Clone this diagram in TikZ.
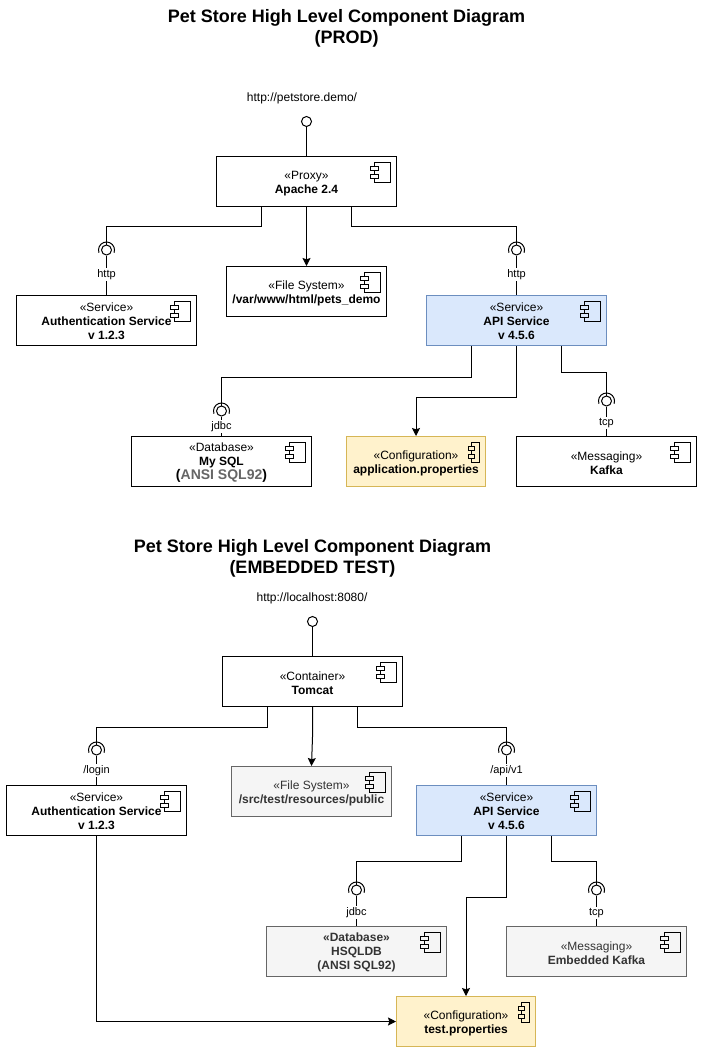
\documentclass[tikz,border=0pt]{standalone}
\usepackage{fontspec}
\setmainfont{Liberation Sans}
\usetikzlibrary{calc,arrows.meta}
\definecolor{grayfill}{HTML}{F5F5F5}
\definecolor{grayline}{HTML}{666666}
\definecolor{graytext}{HTML}{333333}
\definecolor{bluefill}{HTML}{DAE8FC}
\definecolor{blueline}{HTML}{6C8EBF}
\definecolor{yellowfill}{HTML}{FFF2CC}
\definecolor{yellowline}{HTML}{D6B656}
\newcommand{\toplift}{\rule{0pt}{9pt}}
\newcommand{\topliftc}{\rule{0pt}{7.5pt}}
\tikzset{
  comp/.style={draw=black,fill=white,line width=0.75pt,minimum width=135pt,minimum height=37.5pt,inner sep=0pt,align=center,font=\fontsize{9}{10.5}\selectfont},
  fsbox/.style={comp,minimum width=120pt},
  cfgbox/.style={comp,minimum width=104.25pt},
  graybox/.style={draw=grayline,fill=grayfill,text=graytext},
  bluebox/.style={draw=blueline,fill=bluefill},
  yellowbox/.style={draw=yellowline,fill=yellowfill},
  ifc/.style={circle,draw=black,fill=white,line width=0.75pt,minimum size=7.5pt,inner sep=0pt},
  lbl/.style={fill=white,inner sep=1pt,font=\fontsize{8.25}{9}\selectfont},
  urltext/.style={font=\fontsize{9}{10.5}\selectfont},
  titletext/.style={align=center,font=\fontsize{13.5}{15.75}\selectfont\bfseries},
  wire/.style={line width=0.75pt,draw=black},
  arr/.style={wire,-{Stealth[length=6pt,width=6pt,inset=1pt]}}
}
% #1 box, #2 fill, #3 body width, #4 tab half-width
\newcommand{\compicon}[4]{%
  \draw[line width=0.75pt,fill=#2] ($(#1.north east)+(-6.75,6.75)$) rectangle ($(#1.north east)+(-6.75-#3,26.75)$);
  \draw[line width=0.75pt,fill=#2] ($(#1.north east)+(-6.75-#3-#4,10.25)$) rectangle ($(#1.north east)+(-6.75-#3+#4,14.25)$);
  \draw[line width=0.75pt,fill=#2] ($(#1.north east)+(-6.75-#3-#4,18.75)$) rectangle ($(#1.north east)+(-6.75-#3+#4,22.75)$);
}
\newcommand{\ifcarc}[1]{\draw[line width=0.75pt] ([shift={(160:8)}]#1.center) arc (160:380:8);}
\begin{document}
\begin{tikzpicture}[x=0.75pt,y=-0.75pt]
\useasboundingbox (0,0) rectangle (701,1052);
% ---------- PROD ----------
\node[titletext] (title1) at (346.5,28) {Pet Store High Level Component Diagram\\(PROD)};
\node[urltext] (url1) at (302,98) {http://petstore.demo/};
\node[comp] (proxy) at (306.5,181.5) {\toplift «Proxy»\\\textbf{Apache 2.4}};
\node[comp] (auth) at (106.5,320.5) {\topliftc «Service»\\\textbf{Authentication Service}\\\textbf{v 1.2.3}};
\node[fsbox] (fs) at (306.5,291.5) {\toplift «File System»\\\textbf{/var/www/html/pets\_demo}};
\node[comp,bluebox] (api) at (516.5,320.5) {\topliftc «Service»\\\textbf{API Service}\\\textbf{v 4.5.6}};
\node[comp] (db) at (221.5,461.5) {\topliftc «Database»\\\textbf{My SQL}\\\textbf{\fontsize{10.5}{10.5}\selectfont(\textcolor{grayline}{ANSI SQL92})}};
\node[cfgbox,yellowbox] (conf) at (416,461.5) {\toplift «Configuration»\\\textbf{application.properties}};
\node[comp] (kafka) at (606.5,461.5) {\toplift «Messaging»\\\textbf{Kafka}};
\node[ifc] (i0) at (306.5,121.5) {};
\node[ifc] (i1) at (106.5,250) {};
\node[ifc] (i2) at (516.5,250) {};
\node[ifc] (i3) at (221.5,411) {};
\node[ifc] (i4) at (606.5,401) {};
\coordinate (p1) at ($(proxy.south)+(-45,0)$);
\coordinate (p2) at ($(proxy.south)+(45,0)$);
\coordinate (a1) at ($(api.south)+(-45,0)$);
\coordinate (a2) at ($(api.south)+(45,0)$);
\draw[wire] (i0) -- (proxy.north);
\draw[wire] (p1) -- ++(0,19) -| (i1.north);
\draw[wire] (p2) -- ++(0,19) -| (i2.north);
\draw[arr] (proxy.south) -- (fs.north);
\draw[wire] (i1) -- (auth.north) node[lbl,pos=0.49] (l1) {http};
\draw[wire] (i2) -- (api.north) node[lbl,pos=0.49] (l2) {http};
\draw[wire] (a1) -- ++(0,31) -| (i3.north);
\draw[wire] (a2) -- ++(0,26) -| (i4.north);
\draw[arr] (api.south) -- ++(0,51) -| (conf.north);
\draw[wire] (i3) -- (db.north) node[lbl,midway] (l3) {jdbc};
\draw[wire] (i4) -- (kafka.north) node[lbl,pos=0.56] (l4) {tcp};
\foreach \n in {i1,i2,i3,i4} {\ifcarc{\n}}
\compicon{proxy}{white}{16}{4}
\compicon{auth}{white}{16}{4}
\compicon{fs}{white}{16}{4}
\compicon{api}{bluefill}{16}{4}
\compicon{db}{white}{16}{4}
\compicon{conf}{yellowfill}{8}{3}
\compicon{kafka}{white}{16}{4}
% ---------- EMBEDDED TEST ----------
\node[titletext] (title2) at (312.5,558) {Pet Store High Level Component Diagram\\(EMBEDDED TEST)};
\node[urltext] (url2) at (312,598) {http://localhost:8080/};
\node[comp] (cont) at (312.5,681.5) {\toplift «Container»\\\textbf{Tomcat}};
\node[comp] (authb) at (96.5,810.5) {\topliftc «Service»\\\textbf{Authentication Service}\\\textbf{v 1.2.3}};
\node[fsbox,graybox] (fsb) at (311.5,791.5) {\toplift «File System»\\\textbf{/src/test/resources/public}};
\node[comp,bluebox] (apib) at (506.5,810.5) {\topliftc «Service»\\\textbf{API Service}\\\textbf{v 4.5.6}};
\node[comp,graybox] (dbb) at (356.5,951.5) {\topliftc\textbf{«Database»}\\\textbf{HSQLDB}\\\textbf{(ANSI SQL92)}};
\node[comp,graybox] (kafkab) at (596.5,951.5) {\toplift «Messaging»\\\textbf{Embedded Kafka}};
\node[cfgbox,yellowbox] (confb) at (466,1021.5) {\toplift «Configuration»\\\textbf{test.properties}};
\node[ifc] (j0) at (312.5,621.5) {};
\node[ifc] (j1) at (96.5,750) {};
\node[ifc] (j2) at (506.5,750) {};
\node[ifc] (j3) at (356.5,890) {};
\node[ifc] (j4) at (596.5,890) {};
\coordinate (q1) at ($(cont.south)+(-45,0)$);
\coordinate (q2) at ($(cont.south)+(45,0)$);
\coordinate (b1) at ($(apib.south)+(-45,0)$);
\coordinate (b2) at ($(apib.south)+(45,0)$);
\draw[wire] (j0) -- (cont.north);
\draw[wire] (q1) -- ++(0,20) -| (j1.north);
\draw[wire] (q2) -- ++(0,20) -| (j2.north);
\draw[arr] (cont.south) -- ++(0,30) -- (fsb.north);
\draw[wire] (j1) -- (authb.north) node[lbl,midway] (m1) {/login};
\draw[wire] (j2) -- (apib.north) node[lbl,midway] (m2) {/api/v1};
\draw[wire] (b1) -- ++(0,25.5) -| (j3.north);
\draw[wire] (b2) -- ++(0,25.5) -| (j4.north);
\draw[arr] (apib.south) -- ++(0,61) -| (confb.north);
\draw[arr] (authb.south) |- (confb.west);
\draw[wire] (j3) -- (dbb.north) node[lbl,pos=0.56] (m3) {jdbc};
\draw[wire] (j4) -- (kafkab.north) node[lbl,pos=0.56] (m4) {tcp};
\foreach \n in {j1,j2,j3,j4} {\ifcarc{\n}}
\compicon{cont}{white}{16}{4}
\compicon{authb}{white}{16}{4}
\compicon{fsb}{grayfill}{16}{4}
\compicon{apib}{bluefill}{16}{4}
\compicon{dbb}{grayfill}{16}{4}
\compicon{kafkab}{grayfill}{16}{4}
\compicon{confb}{yellowfill}{8}{3}
\end{tikzpicture}
\end{document}
